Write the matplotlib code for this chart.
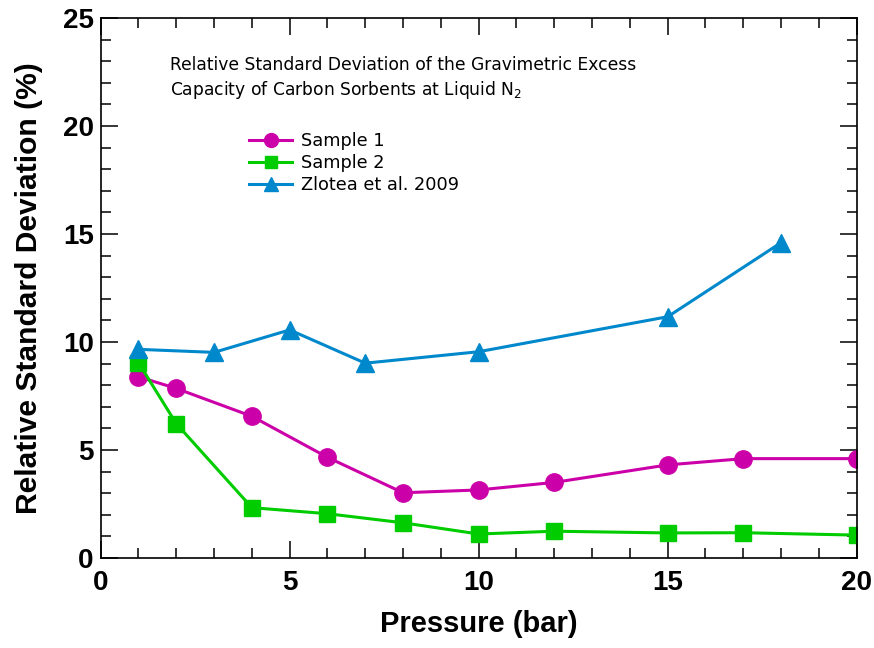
import matplotlib
matplotlib.use('Agg')
import matplotlib.pyplot as plt
from matplotlib.ticker import MultipleLocator

# relative standard deviation (%) vs pressure (bar)
p_s1 = [1, 2, 4, 6, 8, 10, 12, 15, 17, 20]
rsd_s1 = [8.39, 7.85, 6.56, 4.66, 3.02, 3.15, 3.50, 4.31, 4.60, 4.60]

p_s2 = [1, 2, 4, 6, 8, 10, 12, 15, 17, 20]
rsd_s2 = [9.04, 6.22, 2.33, 2.05, 1.63, 1.11, 1.24, 1.16, 1.17, 1.06]

p_zl = [1, 3, 5, 7, 10, 15, 18]
rsd_zl = [9.66, 9.52, 10.56, 9.02, 9.55, 11.17, 14.6]

labels = ['Sample 1', 'Sample 2', 'Zlotea et al. 2009']

fig = plt.figure(figsize=(8.74, 6.48), dpi=100)
ax = fig.add_axes([0.1152, 0.1389, 0.8650, 0.8333])

ax.plot(p_s1, rsd_s1, '-o', color='#CC00A8', lw=2.2, ms=12.5, label=labels[0])
ax.plot(p_s2, rsd_s2, '-s', color='#00CC00', lw=2.2, ms=11.5, label=labels[1])
ax.plot(p_zl, rsd_zl, '-^', color='#0088CC', lw=2.2, ms=12.5, label=labels[2])

ax.set_xlim(0, 20)
ax.set_ylim(0, 25)
ax.xaxis.set_major_locator(MultipleLocator(5))
ax.xaxis.set_minor_locator(MultipleLocator(1))
ax.yaxis.set_major_locator(MultipleLocator(5))
ax.yaxis.set_minor_locator(MultipleLocator(1))
ax.tick_params(which='both', direction='in', top=True, right=True, width=1.1)
ax.tick_params(which='major', length=12, labelsize=20)
ax.tick_params(which='minor', length=7)
ax.tick_params(axis='x', which='major', pad=9)
ax.tick_params(axis='y', which='major', pad=5)
for lab in ax.get_xticklabels() + ax.get_yticklabels():
    lab.set_fontweight('bold')
    lab.set_fontfamily('Liberation Sans')
for s in ax.spines.values():
    s.set_linewidth(1.2)

ax.set_xlabel('Pressure (bar)', fontsize=21, fontweight='bold',
              family='Liberation Sans', labelpad=10)
ax.set_ylabel('Relative Standard Deviation (%)', fontsize=21.6, fontweight='bold',
              family='Liberation Sans', labelpad=14)

ax.text(0.092, 0.93,
        'Relative Standard Deviation of the Gravimetric Excess\n'
        'Capacity of Carbon Sorbents at Liquid N$_2$',
        transform=ax.transAxes, fontsize=12.3, family='DejaVu Sans',
        va='top', ha='left', linespacing=1.3)

ax.legend(loc='upper left', bbox_to_anchor=(0.185, 0.805), frameon=False,
          fontsize=12.8, handlelength=2.4, handletextpad=0.5, labelspacing=0.22,
          borderpad=0, markerscale=0.8)

fig.savefig('out.png', dpi=100)
